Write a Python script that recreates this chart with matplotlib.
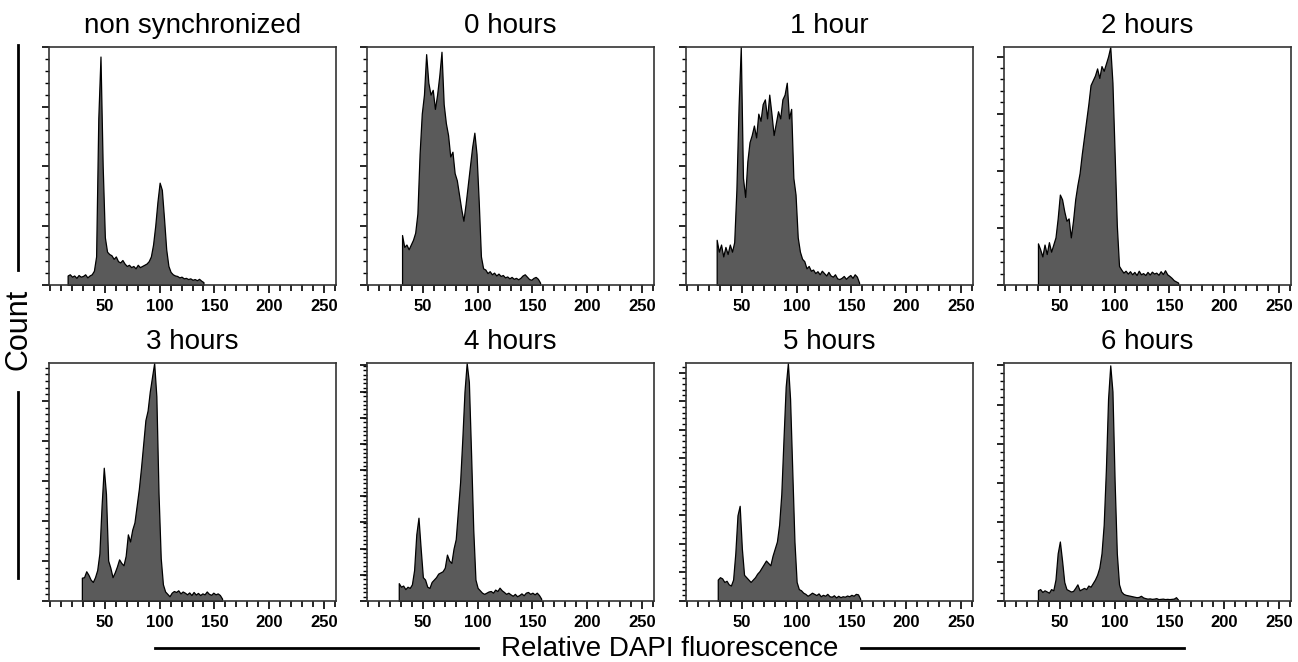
import numpy as np
import matplotlib
matplotlib.use("Agg")
import matplotlib.pyplot as plt
from matplotlib.ticker import MultipleLocator
from matplotlib.lines import Line2D

W, H = 1298, 662

titles = ["non synchronized", "0 hours", "1 hour", "2 hours",
          "3 hours", "4 hours", "5 hours", "6 hours"]

# histogram counts (% of panel max), one value every 2 fluorescence channels
start_nonsync = 16
counts_nonsync = [4, 4.5, 3.5, 4, 3, 4.2, 3.5, 3.8, 4.5, 3.2, 4, 4.5, 6, 12, 70, 96,
                  50, 20, 14, 13, 12.5, 11, 12, 10, 9.5, 10.5, 9, 8, 8.5, 7.5, 8, 7,
                  8.5, 7.5, 8, 8.5, 9, 10, 12, 17, 25, 35, 43, 40, 28, 15, 8, 5.5,
                  4.5, 4, 3.8, 3.2, 3.5, 2.8, 3, 2.5, 2.8, 2.2, 2.5, 2, 2.6, 1.8, 1.2]

start_0h = 31
counts_0h = [21, 16, 17, 15, 17, 19, 22, 30, 55, 72, 80, 97, 85, 80, 82, 74, 80, 88,
             98, 76, 68, 63, 54, 56, 47, 44, 38, 32, 27, 34, 42, 50, 58, 64, 55, 35,
             12, 7, 6.5, 5, 5.8, 4.5, 5.2, 4, 4.8, 3.8, 4.2, 3.2, 3.6, 2.8, 3.4, 2.6,
             3, 2.4, 3, 4, 4.5, 3.5, 2.5, 2.2, 3, 3.4, 2.6, 1]

start_1h = 27
counts_1h = [19, 14, 17, 12, 16, 13, 17, 14, 18, 40, 75, 100, 45, 37, 52, 60, 63, 67,
             62, 72, 69, 76, 78, 70, 80, 72, 63, 68, 73, 70, 78, 80, 85, 70, 74, 45,
             38, 20, 14, 11, 10, 7, 8, 6, 6.5, 5, 5.8, 4.5, 6, 5, 4, 5.5, 4, 3.5, 4.5,
             2.8, 2.5, 3, 3.8, 2.6, 3.5, 4.2, 3, 4.5, 3.5, 1]

start_2h = 30
counts_2h = [17.5, 15, 12, 17, 13, 18, 14, 17, 20, 28, 38, 36, 31, 27, 28, 20, 27, 36,
             42, 47, 55, 62, 69, 76, 84, 86, 88, 91, 87, 92, 90, 93, 96, 100, 85, 55,
             25, 8, 6.5, 5.2, 6, 4.8, 5.8, 4.5, 5.5, 4.2, 6, 4.5, 5, 4.2, 5.5, 4.4, 5.6,
             4.8, 5.2, 4.3, 5.8, 4.6, 6.2, 4.5, 3.8, 3, 2, 1.5, 1]

start_3h = 29
counts_3h = [9.8, 10, 12.5, 11, 9, 8, 10, 13, 20, 40, 56, 45, 17, 14, 10, 12, 14.5,
             17.5, 16, 15, 19, 28, 25, 30, 33, 40, 47, 56, 66, 76, 80, 88, 94, 100, 86,
             45, 18, 7, 4, 3, 2, 3.5, 4.2, 3.8, 4.5, 3.2, 4, 3.5, 2.8, 3.6, 2.5, 3.8,
             2.7, 3.4, 2.5, 3.2, 2.8, 4, 3, 2.6, 3.5, 2.8, 3.2, 2.5, 1]

start_4h = 28
counts_4h = [7.5, 6, 6.5, 5, 6, 5.5, 7, 13, 28, 35, 22, 10, 9, 6, 5.5, 8, 9, 10, 11.5,
             12, 12.5, 14, 19.5, 17, 16, 22, 26, 38, 50, 68, 88, 100, 92, 62, 30, 9,
             5.5, 4.5, 3.5, 3, 3.5, 4, 4.2, 3.5, 4.8, 4.2, 5.6, 4.5, 3.8, 3, 3.5, 2.8,
             2.2, 3, 2, 2.5, 3.2, 2.4, 3.5, 3.8, 3, 3.5, 2.8, 3.5, 2.5, 1]

start_5h = 28
counts_5h = [9, 10, 9.5, 8, 8.5, 7, 6.5, 9, 20, 36, 40, 22, 11, 10, 9, 8, 9, 10, 11.5,
             12.5, 14, 15.5, 17, 16, 15, 19, 22, 25, 32, 45, 68, 90, 100, 85, 55, 25,
             8, 5, 4.5, 3.5, 3, 2.2, 2.8, 3.5, 3, 2.5, 3.2, 2, 2.6, 2.2, 3, 2, 1.8, 2.4,
             1.5, 2.2, 1.6, 2, 1.8, 2.3, 2, 2.6, 2.2, 3, 2.8, 1]

start_6h = 30
counts_6h = [4.5, 5, 3.8, 4.5, 4, 3.5, 5, 4.5, 9, 20, 25, 17, 8, 5, 4.5, 4, 4.2, 5.5,
             7, 4.5, 5, 5.5, 5, 6.5, 6, 7.5, 9, 11, 14, 20, 32, 55, 85, 99, 88, 50, 20,
             7, 4, 3, 2.6, 2.4, 2.2, 2, 1.8, 1.6, 1.7, 2.2, 1.5, 1.2, 1.0, 1.1, 0.9,
             1.0, 1.2, 0.8, 0.9, 1, 0.8, 0.9, 0.8, 0.9, 1, 1.6, 0.5]

starts = [start_nonsync, start_0h, start_1h, start_2h,
          start_3h, start_4h, start_5h, start_6h]
series = [counts_nonsync, counts_0h, counts_1h, counts_2h,
          counts_3h, counts_4h, counts_5h, counts_6h]

# y tick spacing (major, minor) per panel, in % of max
ytick_steps = [(25, 5), (25, 5), (25, 5), (24, 4.8),
               (16.8, 2.8), (11, 1.83), (12, 2.4), (16.5, 3.3)]

fig = plt.figure(figsize=(W / 100, H / 100), dpi=100)
lefts = [49, 367, 686, 1004]
tops = [47, 363]
aw, ah = 287, 238

for i, (title, x0, counts) in enumerate(zip(titles, starts, series)):
    r, c = divmod(i, 4)
    l, t = lefts[c], tops[r]
    ax = fig.add_axes([l / W, 1 - (t + ah) / H, aw / W, ah / H])
    y = np.array(counts, dtype=float)
    x = x0 + 2 * np.arange(len(y))
    ax.fill_between(x, y, 0, facecolor="#5a5a5a", edgecolor="black", linewidth=0.9)
    ax.set_xlim(-1, 261)
    ax.set_ylim(0, 100)
    ax.xaxis.set_minor_locator(MultipleLocator(10))
    ax.set_xticks([50, 100, 150, 200, 250])
    maj, mnr = ytick_steps[i]
    ax.yaxis.set_major_locator(MultipleLocator(maj))
    ax.yaxis.set_minor_locator(MultipleLocator(mnr))
    ax.tick_params(axis="x", which="major", direction="out", length=6, width=1.2,
                   pad=4, labelsize=12)
    ax.tick_params(axis="x", which="minor", direction="out", length=4, width=1.2)
    ax.tick_params(axis="y", which="major", direction="out", length=5, width=1.2,
                   labelleft=False)
    ax.tick_params(axis="y", which="minor", direction="out", length=3, width=1)
    for lab in ax.get_xticklabels():
        lab.set_fontfamily(["Liberation Sans Narrow", "Liberation Sans", "DejaVu Sans"])
        lab.set_fontweight("bold")
    for s in ax.spines.values():
        s.set_color("#333333")
        s.set_linewidth(1.2)
    ax.set_title(title, fontsize=20, family=["Liberation Sans", "DejaVu Sans"], pad=10)

# shared axis labels with rule lines
fig.text(18 / W, 1 - 329 / H, "Count", rotation=90, ha="center", va="center",
         fontsize=22, family=["Liberation Sans", "DejaVu Sans"])
fig.text(670 / W, 1 - 656 / H, "Relative DAPI fluorescence", ha="center", va="baseline",
         fontsize=20, family=["Liberation Sans", "DejaVu Sans"])
for xs, ys in [((18, 18), (45, 270)), ((18, 18), (392, 578)),
               ((155, 478), (648, 648)), ((861, 1184), (648, 648))]:
    fig.add_artist(Line2D([v / W for v in xs], [1 - v / H for v in ys],
                          color="black", linewidth=2))

fig.savefig("out.png", dpi=100)
